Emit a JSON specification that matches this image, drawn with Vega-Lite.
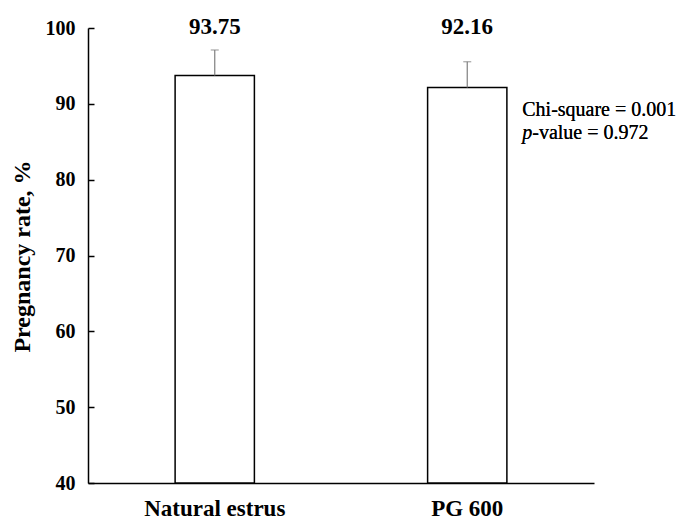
{
  "$schema": "https://vega.github.io/schema/vega-lite/v6.json",
  "width": 506,
  "height": 455,
  "autosize": "none",
  "padding": {"left": 88, "top": 28, "right": 86, "bottom": 39},
  "background": "white",
  "config": {"view": {"stroke": null}, "font": "Liberation Serif"},
  "data": {"values": [
    {"group": "Natural estrus", "rate": 93.75, "upper": 97.1, "label": "93.75"},
    {"group": "PG 600", "rate": 92.16, "upper": 95.55, "label": "92.16"}
  ]},
  "encoding": {
    "x": {"field": "group", "type": "nominal", "sort": null,
      "scale": {"paddingInner": 0.686, "paddingOuter": 0.345},
      "axis": {"title": null, "labelAngle": 0, "labelFont": "Liberation Serif", "labelFontSize": 23, "labelFontWeight": "bold", "labelColor": "black", "labelPadding": 14, "ticks": false, "grid": false, "domainColor": "black", "domainWidth": 1.5}}
  },
  "layer": [
    {"mark": {"type": "bar", "fill": "white", "stroke": "black", "strokeWidth": 1.5},
     "encoding": {"y": {"field": "rate", "type": "quantitative",
        "scale": {"domain": [40, 100], "nice": false, "zero": false},
        "axis": {"orient": "left", "values": [40, 50, 60, 70, 80, 90, 100], "grid": false, "title": "Pregnancy rate, %", "titleFont": "Liberation Serif", "titleFontSize": 24, "titleFontWeight": "bold", "titleColor": "black", "titleX": -66, "titleY": 228, "titleAngle": -90, "titleAlign": "center", "titleBaseline": "middle", "labelFont": "Liberation Serif", "labelFontSize": 20, "labelFontWeight": "bold", "labelColor": "black", "labelPadding": 19, "ticks": true, "tickSize": -6, "tickColor": "black", "tickWidth": 1.5, "domainColor": "black", "domainWidth": 1.5}},
        "y2": {"datum": 40}}},
    {"mark": {"type": "rule", "color": "#7f7f7f", "strokeWidth": 1.2},
     "encoding": {"y": {"field": "rate", "type": "quantitative"}, "y2": {"field": "upper"}}},
    {"mark": {"type": "tick", "color": "#7f7f7f", "size": 8, "thickness": 1.2},
     "encoding": {"y": {"field": "upper", "type": "quantitative"}}},
    {"mark": {"type": "text", "fontSize": 23, "fontWeight": "bold", "baseline": "middle", "dy": -1, "color": "black"},
     "encoding": {"y": {"datum": 100}, "text": {"field": "label"}}},
    {"mark": {"type": "text", "fontSize": 20, "align": "left", "baseline": "middle", "dx": 55, "color": "black"},
     "encoding": {"x": {"datum": "PG 600"}, "y": {"datum": 89.2}, "text": {"value": "Chi-square = 0.001"}}},
    {"mark": {"type": "text", "fontSize": 20, "fontStyle": "italic", "align": "left", "baseline": "middle", "dx": 55, "color": "black"},
     "encoding": {"x": {"datum": "PG 600"}, "y": {"datum": 86.2}, "text": {"value": "p"}}},
    {"mark": {"type": "text", "fontSize": 20, "align": "left", "baseline": "middle", "dx": 65, "color": "black"},
     "encoding": {"x": {"datum": "PG 600"}, "y": {"datum": 86.2}, "text": {"value": "-value = 0.972"}}}
  ]
}
